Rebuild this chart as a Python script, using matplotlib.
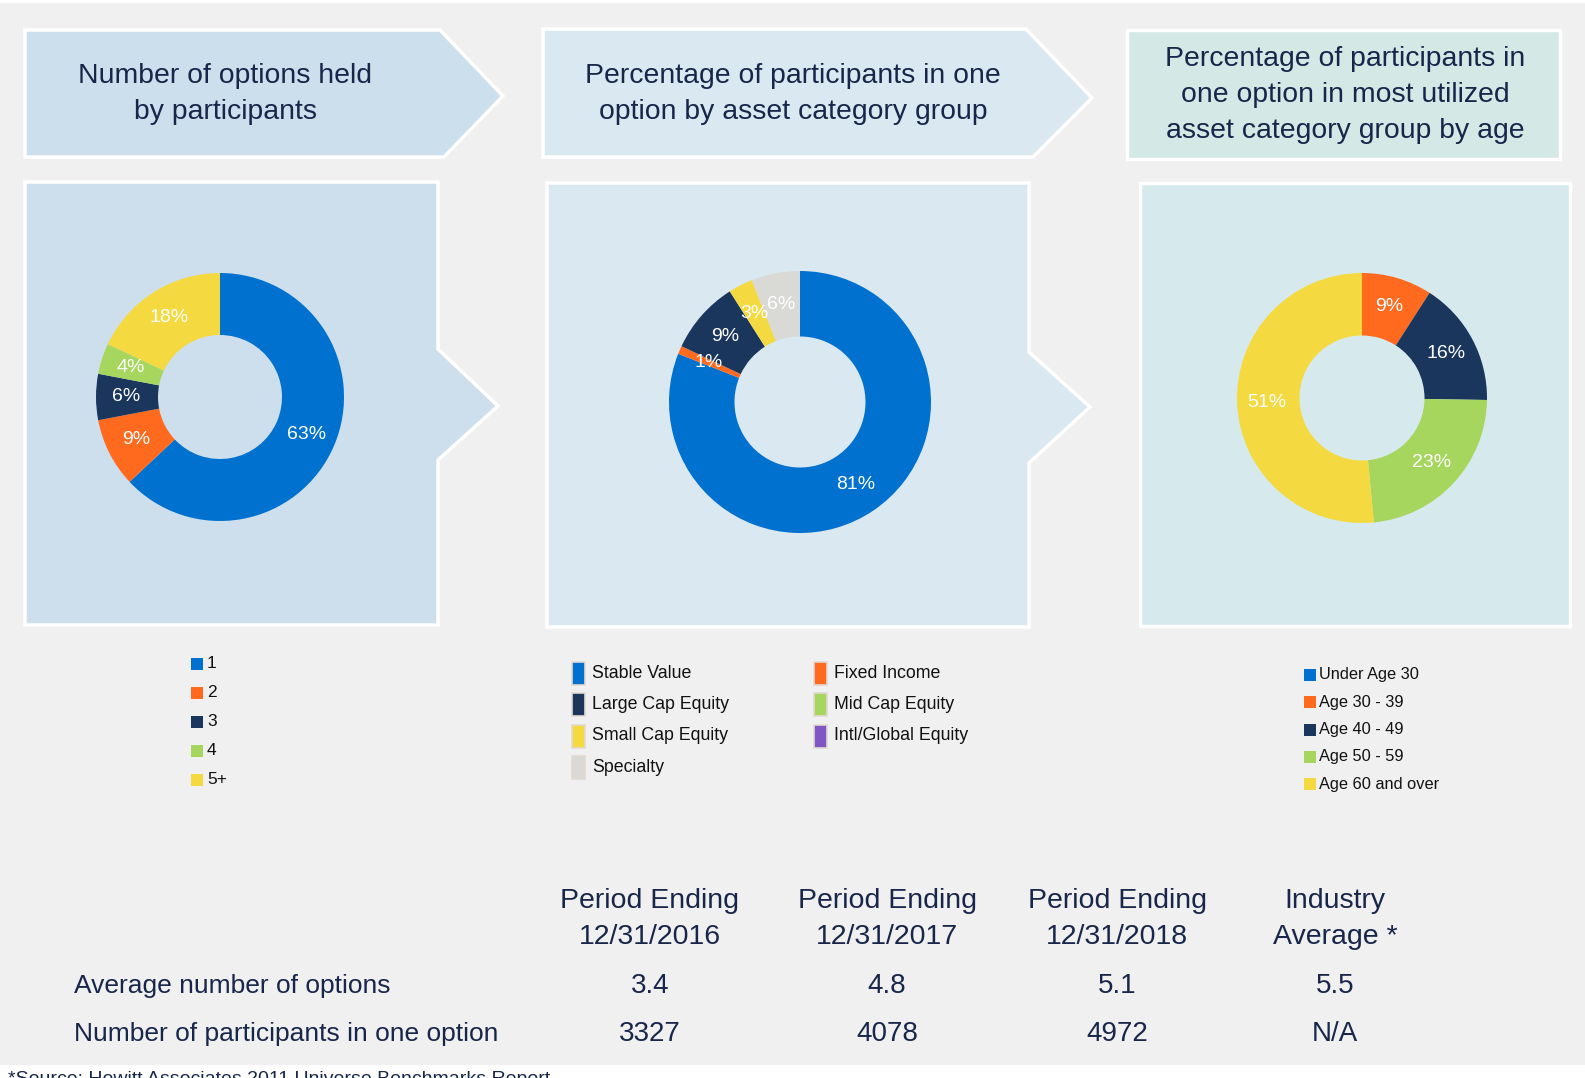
import numpy as np
import matplotlib.pyplot as plt
from matplotlib.patches import Polygon, Rectangle

# ---- data ----
opt_labels = ['1', '2', '3', '4', '5+']
opt_values = [63, 9, 6, 4, 18]

asset_labels = ['Stable Value', 'Fixed Income', 'Large Cap Equity', 'Mid Cap Equity',
                'Small Cap Equity', 'Intl/Global Equity', 'Specialty']
asset_values = [81, 1, 9, 0, 3, 0, 6]

age_labels = ['Under Age 30', 'Age 30 - 39', 'Age 40 - 49', 'Age 50 - 59', 'Age 60 and over']
age_values = [0, 9, 16, 23, 51]

periods = ['Period Ending\n12/31/2016', 'Period Ending\n12/31/2017',
           'Period Ending\n12/31/2018', 'Industry\nAverage *']
row_labels = ['Average number of options', 'Number of participants in one option']
avg_options = ['3.4', '4.8', '5.1', '5.5']
one_option = ['3327', '4078', '4972', 'N/A']

# colours
BLUE = '#0071CE'
ORANGE = '#FF6A1F'
NAVY = '#1B365D'
GREEN = '#A6D65D'
YELLOW = '#F4DA40'
PURPLE = '#7E57C2'
GREY = '#D9D9D6'
TEXT = '#18264A'

opt_colors = [BLUE, ORANGE, NAVY, GREEN, YELLOW]
asset_colors = [BLUE, ORANGE, NAVY, GREEN, YELLOW, PURPLE, GREY]
age_colors = [BLUE, ORANGE, NAVY, GREEN, YELLOW]

plt.rcParams['font.family'] = ['Liberation Sans', 'DejaVu Sans']

W, H = 1585, 1078
fig = plt.figure(figsize=(W / 100, H / 100), dpi=100)
fig.patch.set_facecolor('white')

bg = fig.add_axes([0, 0, 1, 1])
bg.set_xlim(0, W)
bg.set_ylim(H, 0)
bg.axis('off')

# grey slide background
bg.add_patch(Rectangle((0, 3), W, 1062, fc='#F0F0F0', ec='none'))

# header arrows
bg.add_patch(Polygon([(25, 30), (440, 30), (503, 96), (444, 157), (25, 157)],
                     fc='#CCDFEC', ec='white', lw=2.5))
bg.add_patch(Polygon([(543, 29), (1026, 29), (1092, 98), (1033, 157), (543, 157)],
                     fc='#DAE9F1', ec='white', lw=2.5))
bg.add_patch(Rectangle((1127, 30), 433, 129, fc='#D4E8E6', ec='white', lw=2.5))

bg.text(225, 94, 'Number of options held\nby participants', ha='center', va='center',
        fontsize=20.4, color=TEXT, linespacing=1.5)
bg.text(793, 94, 'Percentage of participants in one\noption by asset category group',
        ha='center', va='center', fontsize=20.4, color=TEXT, linespacing=1.5)
bg.text(1345, 95, 'Percentage of participants in\none option in most utilized\nasset category group by age',
        ha='center', va='center', fontsize=20.4, color=TEXT, linespacing=1.5)

# chart panels
bg.add_patch(Polygon([(25, 182), (438, 182), (438, 349), (498, 406), (438, 460), (438, 625), (25, 625)],
                     fc='#CDDFEC', ec='white', lw=2.5))
bg.add_patch(Polygon([(547, 183), (1029, 183), (1029, 352), (1090, 407), (1029, 463), (1029, 627), (547, 627)],
                     fc='#DAE9F1', ec='white', lw=2.5))
bg.add_patch(Rectangle((1140, 183), 430, 443, fc='#D6EAEE', ec='white', lw=2.5))


def donut(cx, cy, r, values, colors):
    ax = fig.add_axes([(cx - r) / W, 1 - (cy + r) / H, 2 * r / W, 2 * r / H])
    ax.patch.set_alpha(0)
    wedges, _ = ax.pie(values, colors=colors, startangle=90, counterclock=False,
                       radius=1, wedgeprops=dict(width=0.5, linewidth=0))
    for w, v in zip(wedges, values):
        if v <= 0:
            continue
        ang = np.deg2rad((w.theta1 + w.theta2) / 2)
        ax.text(0.76 * np.cos(ang), 0.76 * np.sin(ang), f'{v}%', ha='center', va='center',
                color='white', fontsize=14)
    ax.set_xlim(-1, 1)
    ax.set_ylim(-1, 1)
    ax.set_aspect('equal')
    ax.axis('off')
    return ax


donut(220, 397, 124, opt_values, opt_colors)
donut(800, 402, 131, asset_values, asset_colors)
donut(1362, 398, 125, age_values, age_colors)

# legend 1
for i, (lab, c) in enumerate(zip(opt_labels, opt_colors)):
    y = 664 + i * 28.9
    bg.add_patch(Rectangle((191, y - 6), 12, 12, fc=c, ec='none'))
    bg.text(207, y, lab, va='center', ha='left', fontsize=12.5, color='#111111')

# legend 2 (two columns)
asset_pos = {0: (0, 0), 2: (0, 1), 4: (0, 2), 6: (0, 3), 1: (1, 0), 3: (1, 1), 5: (1, 2)}
for i, (lab, c) in enumerate(zip(asset_labels, asset_colors)):
    col, row = asset_pos[i]
    x = 572 if col == 0 else 814
    y = 673 + row * 31.4
    bg.add_patch(Rectangle((x, y - 11), 13, 23, fc=c, ec='#E2D9D2', lw=1.2))
    bg.text(x + 20, y, lab, va='center', ha='left', fontsize=12.8, color='#111111')

# legend 3
for i, (lab, c) in enumerate(zip(age_labels, age_colors)):
    y = 675 + i * 27.3
    bg.add_patch(Rectangle((1304, y - 6), 12, 12, fc=c, ec='none'))
    bg.text(1319, y, lab, va='center', ha='left', fontsize=11.8, color='#111111')

# bottom table
col_x = [650, 887, 1117, 1335]
for x, p in zip(col_x, periods):
    bg.text(x, 919, p, ha='center', va='center', fontsize=20.5, color=TEXT, linespacing=1.55)
for x, v in zip(col_x, avg_options):
    bg.text(x, 986, v, ha='center', va='center', fontsize=20, color=TEXT)
for x, v in zip(col_x, one_option):
    bg.text(x, 1034, v, ha='center', va='center', fontsize=20, color=TEXT)
bg.text(74, 986, row_labels[0], ha='left', va='center', fontsize=19, color=TEXT)
bg.text(74, 1034, row_labels[1], ha='left', va='center', fontsize=19, color=TEXT)

# footnote (cut at the slide edge, as in the original)
bg.text(8, 1071, '*Source: Hewitt Associates 2011 Universe Benchmarks Report', ha='left',
        va='top', fontsize=14, color=TEXT)

fig.savefig('out.png', dpi=100, facecolor=fig.get_facecolor())
